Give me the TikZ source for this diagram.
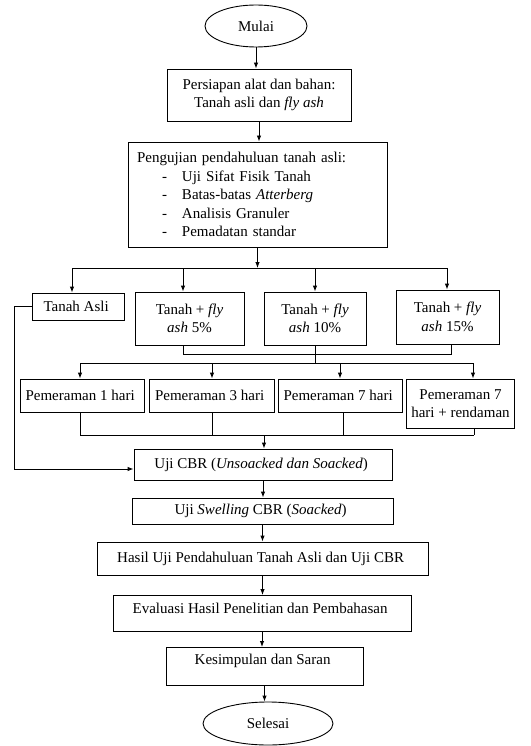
\documentclass[tikz,border=0pt]{standalone}
\usepackage{fontspec}
\setmainfont{Liberation Serif}
\usetikzlibrary{arrows.meta,shapes.geometric}

\newcommand{\itm}[1]{\hspace*{25pt}\makebox[20pt][l]{-}#1}

\begin{document}
\begin{tikzpicture}[x=1pt,y=-1pt,
  font=\fontsize{15}{18.5}\selectfont,
  box/.style={draw,rectangle,align=center,inner sep=0pt,line width=0.9pt},
  ell/.style={draw,ellipse,inner sep=0pt,line width=0.9pt},
  arr/.style={line width=0.9pt,-{Latex[length=6pt,width=4.5pt]}},
  ln/.style={line width=0.9pt}]
\useasboundingbox (0,0) rectangle (530,746);

\node[ell,minimum width=102pt,minimum height=42pt] (mulai) at (256,26) { Mulai };
\node[box,minimum width=184pt,minimum height=52pt] (siap) at (259,95) { Persiapan alat dan bahan:\\ Tanah asli dan \textit{fly ash} };
\node[box,align=left,text width=241pt,inner xsep=9pt,minimum height=105pt] (uji) at (257.5,194.5)
  { Pengujian pendahuluan tanah asli:\\ \itm{Uji Sifat Fisik Tanah}\\ \itm{Batas-batas \textit{Atterberg}}\\ \itm{Analisis Granuler}\\ \itm{Pemadatan standar} };

\node[box,minimum width=92pt,minimum height=27pt] (asli) at (78,306.5) { Tanah Asli };
\node[box,minimum width=109pt,minimum height=53pt] (fly5) at (189.5,318.5) { Tanah + \textit{fly}\\ \textit{ash} 5\% };
\node[box,minimum width=102pt,minimum height=53pt] (fly10) at (315,318.5) { Tanah + \textit{fly}\\ \textit{ash} 10\% };
\node[box,minimum width=103pt,minimum height=54pt] (fly15) at (447.5,317) { Tanah + \textit{fly}\\ \textit{ash} 15\% };

\node[box,minimum width=124pt,minimum height=33pt] (pem1) at (82,395.5) { Pemeraman 1 hari };
\node[box,minimum width=125pt,minimum height=33pt] (pem3) at (211.5,395.5) { Pemeraman 3 hari };
\node[box,minimum width=124pt,minimum height=33pt] (pem7) at (340,395.5) { Pemeraman 7 hari };
\node[box,minimum width=108pt,minimum height=49pt] (pem7r) at (460.5,403.5) { Pemeraman 7\\ hari + rendaman };

\node[box,minimum width=258pt,minimum height=31pt] (cbr) at (263,464.5) { Uji CBR (\textit{Unsoacked dan Soacked}) };
\node[box,minimum width=261pt,minimum height=26pt] (swell) at (262.5,511) { Uji \textit{Swelling} CBR (\textit{Soacked}) };
\node[box,minimum width=331pt,minimum height=33pt] (hasil) at (262.5,558.5) { Hasil Uji Pendahuluan Tanah Asli dan Uji CBR };
\node[box,minimum width=298pt,text height=18pt,text depth=18pt,anchor=north] (eval) at (262,595) { Evaluasi Hasil Penelitian dan Pembahasan };
\node[box,minimum width=197pt,text height=17pt,text depth=21pt,anchor=north] (simpul) at (264.5,647) { Kesimpulan dan Saran };
\node[ell,minimum width=130pt,minimum height=43pt] (selesai) at (268,723.5) { Selesai };

% bus points
\coordinate (b0) at (257.5,268);
\coordinate (d1) at (72,268);
\coordinate (d2) at (183,268);
\coordinate (d3) at (315,268);
\coordinate (d4) at (447,268);
\coordinate (c1) at (183,354);
\coordinate (c2) at (451,354);
\coordinate (e0) at (315,363);
\coordinate (e1) at (80,363);
\coordinate (e2) at (212,363);
\coordinate (e3) at (340,363);
\coordinate (e4) at (473,363);
\coordinate (f0) at (264,435);
\coordinate (f1) at (80,435);
\coordinate (f2) at (212,435);
\coordinate (f3) at (343,435);
\coordinate (f4) at (474,435);
\coordinate (g) at (14,469);

\draw[arr] (mulai.south) -- (mulai.south |- siap.north);
\draw[arr] (siap.south) -- (siap.south |- uji.north);
\draw[arr] (uji.south) -- (b0);
\draw[ln] (d1) -- (d4);
\draw[arr] (d1) -- (d1 |- asli.north);
\draw[arr] (d2) -- (d2 |- fly5.north);
\draw[arr] (d3) -- (d3 |- fly10.north);
\draw[arr] (d4) -- (d4 |- fly15.north);

\draw[ln] (c1 |- fly5.south) -- (c1) -- (c2) -- (c2 |- fly15.south);
\draw[ln] (fly10.south) -- (e0);
\draw[ln] (e1) -- (e4);
\draw[arr] (e1) -- (e1 |- pem1.north);
\draw[arr] (e2) -- (e2 |- pem3.north);
\draw[arr] (e3) -- (e3 |- pem7.north);
\draw[arr] (e4) -- (e4 |- pem7r.north);

\draw[ln] (f1 |- pem1.south) -- (f1);
\draw[ln] (f2 |- pem3.south) -- (f2);
\draw[ln] (f3 |- pem7.south) -- (f3);
\draw[ln] (f4 |- pem7r.south) -- (f4);
\draw[ln] (f1) -- (f4);
\draw[arr] (f0) -- (f0 |- cbr.north);
\draw[arr] (asli.west) -| (g) -- (g -| cbr.west);

\draw[arr] (cbr.south) -- (cbr.south |- swell.north);
\draw[arr] (swell.south) -- (swell.south |- hasil.north);
\draw[arr] (hasil.south) -- (hasil.south |- eval.north);
\draw[arr] (eval.south) -- (eval.south |- simpul.north);
\draw[arr] (simpul.south) -- (simpul.south |- selesai.north);
\end{tikzpicture}
\end{document}
